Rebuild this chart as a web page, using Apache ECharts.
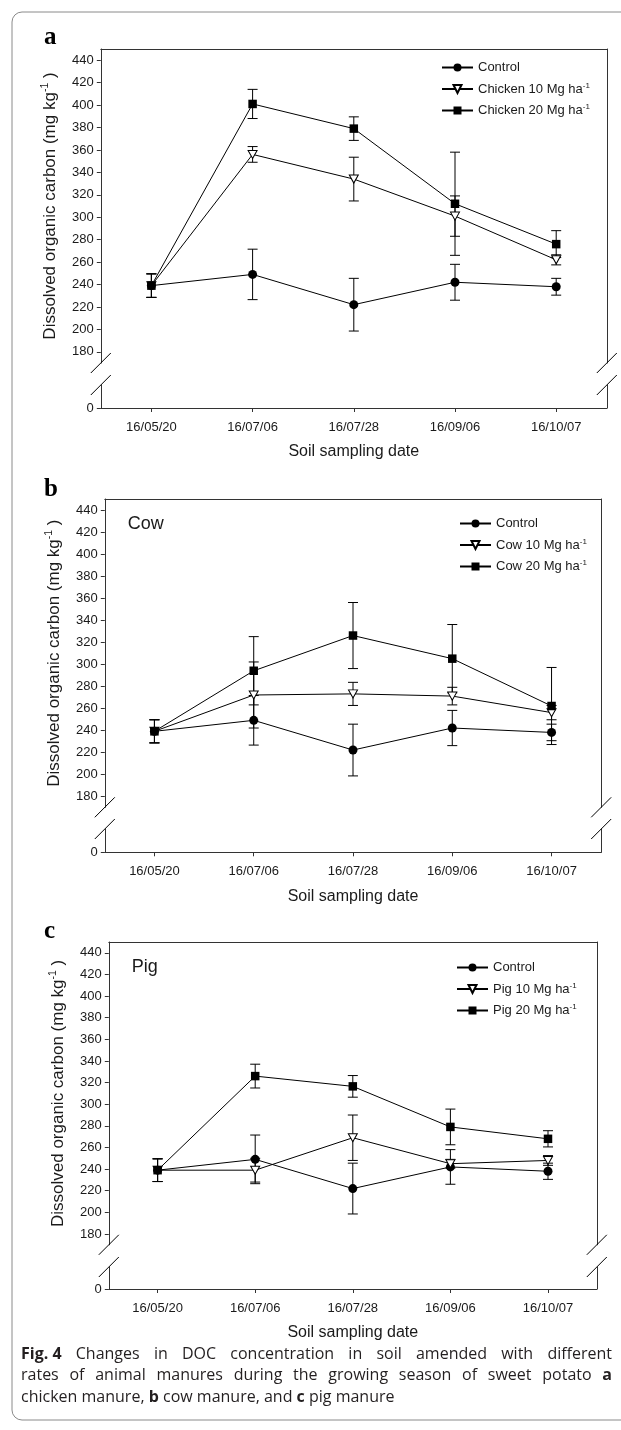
<!DOCTYPE html>
<html>
<head>
<meta charset="utf-8">
<script src="https://cdn.jsdelivr.net/npm/echarts@6/dist/echarts.min.js"></script>
<style>
html,body{margin:0;padding:0;background:#fff;}
#chart{width:621px;height:1430px;}
</style>
</head>
<body>
<div id="chart"></div>
<script>
// ---------- data ----------
const categories = ['16/05/20', '16/07/06', '16/07/28', '16/09/06', '16/10/07'];
const yTickValues = [180, 200, 220, 240, 260, 280, 300, 320, 340, 360, 380, 400, 420, 440];

const controlMean = [239, 249, 222, 242, 238];
const controlErr  = [10.5, 22.5, 23.5, 16, 7.5];

const chicken10Mean = [239, 356, 334, 301, 262];
const chicken10Err  = [10.5, 7, 19.5, 18, 4.5];
const chicken20Mean = [239, 401, 379, 312, 276];
const chicken20Err  = [10.5, 13, 10.5, 46, 12];

const cow10Mean = [239, 272, 273, 271, 256];
const cow10Err  = [10.5, 30, 10.5, 8, 6.5];
const cow20Mean = [239, 294, 326, 305, 262];
const cow20Err  = [10.5, 31, 30, 31, 35];

const pig10Mean = [239, 239, 269, 245, 248];
const pig10Err  = [10.5, 11, 21, 4, 4.5];
const pig20Mean = [239, 326, 316.5, 279, 268];
const pig20Err  = [10.5, 11, 10, 16.5, 7.5];

const panelLetters = ['a', 'b', 'c'];
const panelTags = ['', 'Cow', 'Pig'];
const seriesNames = [
  ['Control', 'Chicken 10 Mg ha-1', 'Chicken 20 Mg ha-1'],
  ['Control', 'Cow 10 Mg ha-1', 'Cow 20 Mg ha-1'],
  ['Control', 'Pig 10 Mg ha-1', 'Pig 20 Mg ha-1']
];
const panelData = [
  [[controlMean, controlErr], [chicken10Mean, chicken10Err], [chicken20Mean, chicken20Err]],
  [[controlMean, controlErr], [cow10Mean, cow10Err], [cow20Mean, cow20Err]],
  [[controlMean, controlErr], [pig10Mean, pig10Err], [pig20Mean, pig20Err]]
];
const xTitle = 'Soil sampling date';
const yTitle = 'Dissolved organic carbon (mg kg{sup|-1} )';
// caption lines: words, '*' prefix = bold
const captionLines = [
  ['*Fig. 4', 'Changes', 'in', 'DOC', 'concentration', 'in', 'soil', 'amended', 'with', 'different'],
  ['rates', 'of', 'animal', 'manures', 'during', 'the', 'growing', 'season', 'of', 'sweet', 'potato', '*a'],
  ['chicken', 'manure,', '*b', 'cow', 'manure,', 'and', '*c', 'pig', 'manure']
];
const captionJustify = [true, true, false];

// ---------- layout (pixels) ----------
const layout = [
  {L: 100.8, R: 606.8, top: 49,  upBot: 363,    lowTop: 385,  bot: 408,    legL: 436, legT: 56,  letterY: 39,  tagY: 0},
  {L: 104.8, R: 601.2, top: 499, upBot: 807.3,  lowTop: 829,  bot: 852.3,  legL: 454, legT: 512, letterY: 491, tagY: 524},
  {L: 108.8, R: 596.8, top: 942, upBot: 1244.8, lowTop: 1267, bot: 1289,   legL: 451, legT: 956, letterY: 933, tagY: 967}
];

const FONT = '"Liberation Sans", Arial, sans-serif';
const CAPFONT = '"Open Sans", "Noto Sans", sans-serif';
const CAPSIZE = 16;
const TXT = '#1a1a1a';
const AX = '#333333';

const symbols = ['circle', 'path://M0,0 L10,0 L5,9 Z', 'rect'];
const symbolSizes = [9, [9, 8], 8.5];
const symbolFills = ['#000', '#fff', '#000'];

const grids = [], xAxes = [], yAxes = [], series = [], legends = [], graphics = [];

function errRender(params, api) {
  const x = api.value(0);
  const lo = api.coord([x, api.value(1)]);
  const hi = api.coord([x, api.value(2)]);
  const w = 5;
  const st = {stroke: '#000', lineWidth: 1, fill: null};
  return {type: 'group', children: [
    {type: 'line', shape: {x1: lo[0], y1: lo[1], x2: hi[0], y2: hi[1]}, style: st},
    {type: 'line', shape: {x1: lo[0] - w, y1: lo[1], x2: lo[0] + w, y2: lo[1]}, style: st},
    {type: 'line', shape: {x1: hi[0] - w, y1: hi[1], x2: hi[0] + w, y2: hi[1]}, style: st}
  ]};
}

layout.forEach((p, k) => {
  const gU = grids.length;
  grids.push({left: p.L, width: p.R - p.L, top: p.top, height: p.upBot - p.top, outerBoundsMode: 'none'});
  grids.push({left: p.L, width: p.R - p.L, top: p.lowTop, height: p.bot - p.lowTop, outerBoundsMode: 'none'});
  const xU = xAxes.length;
  xAxes.push({type: 'category', gridIndex: gU, position: 'top', data: categories,
    axisLine: {show: true, lineStyle: {color: AX, width: 1}}, axisTick: {show: false}, axisLabel: {show: false}, splitLine: {show: false}});
  xAxes.push({type: 'category', gridIndex: gU + 1, position: 'bottom', data: categories,
    axisLine: {show: true, lineStyle: {color: AX, width: 1}},
    axisTick: {show: true, alignWithLabel: true, length: 4, lineStyle: {color: AX}},
    axisLabel: {show: true, margin: 13, fontSize: 13, fontFamily: FONT, color: TXT},
    name: xTitle, nameLocation: 'middle', nameGap: 36,
    nameTextStyle: {fontSize: 16, fontFamily: FONT, color: TXT}, splitLine: {show: false}});
  const yU = yAxes.length;
  yAxes.push({type: 'value', gridIndex: gU, position: 'left', min: 170, max: 450,
    axisLine: {show: true, lineStyle: {color: AX, width: 1}},
    axisTick: {show: true, length: 4, customValues: yTickValues, lineStyle: {color: AX}},
    axisLabel: {show: true, margin: 7, fontSize: 13, fontFamily: FONT, color: TXT, customValues: yTickValues},
    splitLine: {show: false},
    name: yTitle, nameLocation: 'middle', nameGap: 40, nameRotate: 90,
    nameTextStyle: {fontSize: 17, fontFamily: FONT, color: TXT,
      rich: {sup: {fontSize: 10.5, fontFamily: FONT, color: TXT, padding: [0, 0, 10, 0]}}}});
  yAxes.push({type: 'value', gridIndex: gU, position: 'right', min: 170, max: 450,
    axisLine: {show: true, lineStyle: {color: AX, width: 1}}, axisTick: {show: false}, axisLabel: {show: false}, splitLine: {show: false}});
  yAxes.push({type: 'value', gridIndex: gU + 1, position: 'left', min: 0, max: 20,
    axisLine: {show: true, lineStyle: {color: AX, width: 1}},
    axisTick: {show: true, length: 4, customValues: [0], lineStyle: {color: AX}},
    axisLabel: {show: true, margin: 7, fontSize: 13, fontFamily: FONT, color: TXT, customValues: [0]},
    splitLine: {show: false}});
  yAxes.push({type: 'value', gridIndex: gU + 1, position: 'right', min: 0, max: 20,
    axisLine: {show: true, lineStyle: {color: AX, width: 1}}, axisTick: {show: false}, axisLabel: {show: false}, splitLine: {show: false}});

  panelData[k].forEach((sd, j) => {
    const [mean, err] = sd;
    series.push({type: 'custom', name: seriesNames[k][j] + ' err', xAxisIndex: xU, yAxisIndex: yU,
      renderItem: errRender, encode: {x: 0, y: [1, 2]}, z: 1, silent: true, clip: false,
      data: mean.map((m, i) => [i, m - err[i], m + err[i]])});
  });
  panelData[k].forEach((sd, j) => {
    const [mean] = sd;
    series.push({type: 'line', name: seriesNames[k][j], xAxisIndex: xU, yAxisIndex: yU,
      data: mean, symbol: symbols[j], symbolSize: symbolSizes[j], showAllSymbol: true,
      lineStyle: {color: '#000', width: 1}, itemStyle: {color: symbolFills[j], borderColor: '#000', borderWidth: j === 1 ? 1 : 0},
      z: 3, animation: false});
  });

  legends.push({orient: 'vertical', left: p.legL, top: p.legT, itemWidth: 31, itemHeight: 10, itemGap: 7.5,
    data: seriesNames[k], selectedMode: false,
    formatter: n => n.replace('ha-1', 'ha{sup|-1}'),
    textStyle: {fontSize: 13, fontFamily: FONT, color: TXT, padding: [0, 0, 0, 0],
      rich: {sup: {fontSize: 8, fontFamily: FONT, color: TXT, padding: [0, 0, 7, 0]}}}});

  // panel letter
  graphics.push({type: 'text', left: 44, top: p.letterY - 14,
    style: {text: panelLetters[k], font: 'bold 25px "Liberation Serif", "Times New Roman", serif', fill: '#000'}});
  if (panelTags[k]) {
    graphics.push({type: 'text', x: p.L + 23, y: p.tagY,
      style: {text: panelTags[k], fontSize: 18, fontFamily: FONT, fill: TXT, verticalAlign: 'middle', textVerticalAlign: 'middle'}});
  }
  // axis break marks
  [p.L, p.R].forEach(x => {
    [p.upBot, p.lowTop].forEach(y => {
      graphics.push({type: 'line', shape: {x1: x - 10, y1: y + 10, x2: x + 10, y2: y - 10},
        style: {stroke: '#000', lineWidth: 1}, z: 10});
    });
  });
});

// frame
graphics.unshift({type: 'rect', shape: {x: 12, y: 12, width: 640, height: 1408, r: 10},
  style: {fill: null, stroke: '#8a8a8a', lineWidth: 1}, z: -1});

// caption (justified lines)
const capX0 = 21, capX1 = 612;
const mctx = document.createElement('canvas').getContext('2d');
function capFont(bold) { return (bold ? 'bold ' : '') + CAPSIZE + 'px ' + CAPFONT; }
captionLines.forEach((words, i) => {
  const toks = words.map(w => ({bold: w[0] === '*', text: w[0] === '*' ? w.slice(1) : w}));
  toks.forEach(t => { mctx.font = capFont(t.bold); t.w = mctx.measureText(t.text).width; });
  mctx.font = capFont(false);
  const spaceW = mctx.measureText(' ').width;
  const total = toks.reduce((s, t) => s + t.w, 0);
  const gaps = toks.length - 1;
  const gapW = captionJustify[i] ? (capX1 - capX0 - total) / gaps : spaceW;
  let x = capX0;
  const y = 1354 + i * 21.5;
  toks.forEach(t => {
    graphics.push({type: 'text', x: x, y: y,
      style: {text: t.text, font: capFont(t.bold), fill: '#231f20', verticalAlign: 'middle', textVerticalAlign: 'middle'}});
    x += t.w + gapW;
  });
});

const chart = echarts.init(document.getElementById('chart'), null, {renderer: 'canvas'});
chart.setOption({
  animation: false,
  backgroundColor: '#fff',
  grid: grids, xAxis: xAxes, yAxis: yAxes, series: series, legend: legends,
  graphic: {elements: graphics}
});
</script>
</body>
</html>
